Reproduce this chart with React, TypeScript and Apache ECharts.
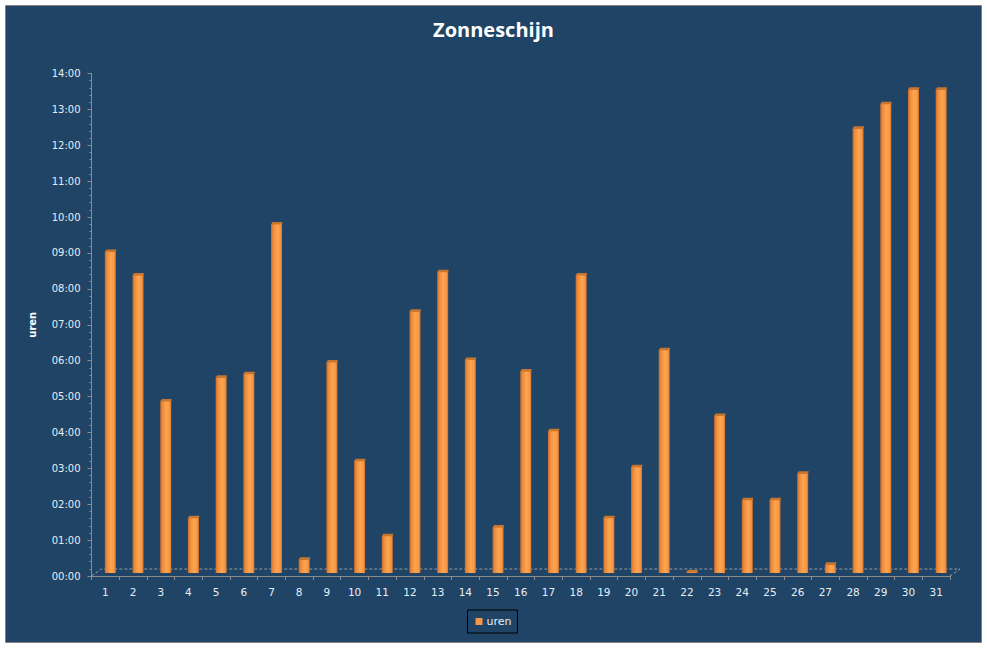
import React, { useEffect, useRef } from "react";
import * as echarts from "echarts";

const days: string[] = Array.from({ length: 31 }, (_, i) => String(i + 1));
const sunHours: number[] = [
  9.1, 8.44, 4.93, 1.68, 5.59, 5.69, 9.86, 0.52, 6.02, 3.27,
  1.18, 7.43, 8.53, 6.09, 1.42, 5.77, 4.1, 8.44, 1.68, 3.1,
  6.36, 0.17, 4.53, 2.18, 2.18, 2.92, 0.38, 12.53, 13.21, 13.62,
  13.62,
];
const yTicks: number[] = [0, 14, 1];
const seriesName = "uren";

function hhmm(v: number): string {
  const h = Math.floor(v);
  const m = Math.round((v - h) * 60);
  return String(h).padStart(2, "0") + ":" + String(m).padStart(2, "0");
}

export default function App() {
  const ref = useRef<HTMLDivElement>(null);
  useEffect(() => {
    document.body.style.margin = "0";
    if (!ref.current) return;
    const chart = echarts.init(ref.current, undefined, { renderer: "svg" });
    const labelColor = "#E6EEF6";
    const axisGray = "#8C8C8C";
    const option: any = {
      animation: false,
      backgroundColor: "transparent",
      title: {
        text: "Zonneschijn",
        left: "center",
        top: 14,
        textStyle: {
          color: "#FFFFFF",
          fontWeight: "bold",
          fontSize: 20,
          fontFamily: "Open Sans",
        },
      },
      legend: {
        data: [seriesName],
        left: "center",
        top: 610,
        padding: [6, 6, 6, 8],
        itemWidth: 7,
        itemHeight: 7,
        icon: "rect",
        borderColor: "#000000",
        borderWidth: 1,
        textStyle: { color: labelColor, fontSize: 11, fontFamily: "DejaVu Sans", padding: [0, 0, 0, -1] },
      },
      grid: { left: 91.5, right: 37, top: 73.5, bottom: 72, containLabel: false },
      xAxis: {
        type: "category",
        data: days,
        boundaryGap: true,
        axisLine: { lineStyle: { color: axisGray, width: 1 } },
        axisTick: { show: true, length: 4, interval: 0, lineStyle: { color: axisGray } },
        axisLabel: { color: labelColor, fontSize: 10.5, fontFamily: "DejaVu Sans", margin: 10, interval: 0 },
        splitLine: { show: false },
      },
      yAxis: {
        type: "value",
        min: yTicks[0],
        max: yTicks[1],
        interval: yTicks[2],
        name: seriesName,
        nameLocation: "middle",
        nameGap: 54,
        nameTextStyle: { color: "#FFFFFF", fontWeight: "bold", fontSize: 10, fontFamily: "DejaVu Sans" },
        axisLine: { show: true, lineStyle: { color: axisGray, width: 1 } },
        axisTick: { show: true, length: 4, lineStyle: { color: axisGray } },
        minorTick: { show: true, splitNumber: 5, length: 2, lineStyle: { color: axisGray } },
        axisLabel: { color: labelColor, fontSize: 10, fontFamily: "DejaVu Sans", margin: 11, formatter: (v: number) => hhmm(v) },
        splitLine: { show: false },
      },
      graphic: [
        {
          type: "rect",
          z: -100,
          shape: { x: 5.5, y: 5.5, width: 976, height: 637 },
          style: { fill: "#1F4466", stroke: "#808080", lineWidth: 1 },
        },
        {
          type: "polyline",
          z: 1,
          shape: { points: [[91.5, 576], [101.5, 569], [960, 569], [950, 576]] },
          style: { stroke: "#9A9A9A", lineWidth: 1, lineDash: [3, 2], fill: "none" },
        },
      ],
      series: [
        {
          name: seriesName,
          type: "custom",
          itemStyle: { color: "#F79646" },
          data: sunHours.map((v, i) => [i, v]),
          encode: { x: 0, y: 1 },
          z: 5,
          renderItem: (params: any, api: any) => {
            const idx = api.value(0);
            const v = api.value(1);
            const p0 = api.coord([idx, 0]);
            const p1 = api.coord([idx, v]);
            const left = p0[0] - 0.5;
            const w = 11;
            const bottom = p0[1] - 3;
            const top = Math.min(p1[1], bottom - 2);
            const capH = 2.5;
            return {
              type: "group",
              children: [
                {
                  type: "rect",
                  shape: { x: left, y: top + capH - 0.5, width: w, height: bottom - top - capH + 0.5 },
                  style: {
                    fill: new echarts.graphic.LinearGradient(0, 0, 1, 0, [
                      { offset: 0, color: "#C2692A" },
                      { offset: 0.18, color: "#EB8A3C" },
                      { offset: 0.55, color: "#FFA54F" },
                      { offset: 0.85, color: "#F79646" },
                      { offset: 1, color: "#C9702F" },
                    ]),
                  },
                },
                {
                  type: "polygon",
                  shape: {
                    points: [
                      [left, top + capH],
                      [left + 1.5, top],
                      [left + w + 0.5, top],
                      [left + w, top + capH],
                    ],
                  },
                  style: { fill: "#C8752F" },
                },
              ],
            };
          },
        },
      ],
    };
    chart.setOption(option);
    return () => chart.dispose();
  }, []);
  return (
    <div style={{ width: 987, height: 648, background: "#FFFFFF", position: "relative" }}>
      <div ref={ref} style={{ width: 987, height: 648 }} />
    </div>
  );
}
